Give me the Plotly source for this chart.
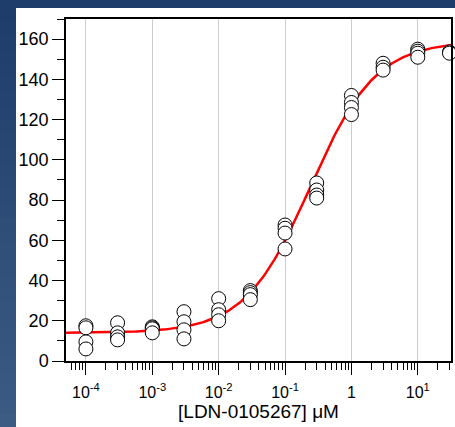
import numpy as np
import plotly.graph_objects as go

# ---- data ----
conc = [1e-4, 3e-4, 1e-3, 3e-3, 1e-2, 3e-2, 1e-1, 3e-1, 1.0, 3.0, 10.0, 30.0]
responses = [
    [17.5, 16.5, 9.5, 6.0],
    [19.0, 14.0, 12.0, 10.5],
    [17.0, 16.5, 16.0, 14.0],
    [24.5, 19.5, 15.5, 11.0],
    [31.0, 25.5, 23.0, 20.0],
    [35.0, 34.0, 33.0, 30.5],
    [67.6, 66.0, 63.6, 55.7],
    [88.5, 85.0, 82.5, 81.0],
    [132.0, 128.5, 126.0, 122.5],
    [148.0, 146.0, 144.6],
    [155.0, 154.0, 153.0, 151.0],
    [153.6, 153.0],
]
# fitted 4-parameter logistic curve
fit_bottom = 14.0
fit_top = 159.0
fit_ec50 = 0.24
fit_hill = 0.88

x_tickvals = [1e-4, 1e-3, 1e-2, 1e-1, 1, 10]
x_ticktext = ["10<sup>-4</sup>", "10<sup>-3</sup>", "10<sup>-2</sup>",
              "10<sup>-1</sup>", "1", "10<sup>1</sup>"]
y_tickvals = [0, 20, 40, 60, 80, 100, 120, 140, 160]
x_title = "[LDN-0105267] μM"

# ---- build ----
px_x, px_y = [], []
for c, vals in zip(conc, responses):
    for v in vals:
        px_x.append(c)
        px_y.append(v)

lx = np.linspace(-4.3, 1.5, 300)
cx = 10 ** lx
cy = fit_bottom + (fit_top - fit_bottom) / (1 + (fit_ec50 / cx) ** fit_hill)

minor_x = [k * 10.0 ** e for e in range(-5, 2) for k in range(2, 10)]
minor_x = [v for v in minor_x if 10 ** -4.3 <= v <= 10 ** 1.5]

W, H = 455, 427
ml, mr, mt, mb = 66, 4, 19, 66
pw, ph = W - ml - mr, H - mt - mb


def px2x(p):
    return (p - ml) / pw


def px2y(p):
    return 1 - (p - mt) / ph


shapes = []
# left gradient strip
n = 30
top_c = np.array([0x1f, 0x3d, 0x6b])
bot_c = np.array([0x3c, 0x5c, 0x84])
for i in range(n):
    t = i / (n - 1)
    col = (top_c * (1 - t) + bot_c * t).astype(int)
    y0p = 8 + (H - 8) * i / n
    y1p = 8 + (H - 8) * (i + 1) / n + 1
    shapes.append(dict(type="rect", xref="paper", yref="paper",
                       x0=px2x(0), x1=px2x(16.5), y0=px2y(y1p), y1=px2y(y0p),
                       fillcolor="rgb(%d,%d,%d)" % tuple(col), line_width=0,
                       layer="below"))
# white panel
shapes.append(dict(type="rect", xref="paper", yref="paper",
                   x0=px2x(16), x1=px2x(W + 2), y0=px2y(H + 2), y1=px2y(8),
                   fillcolor="white", line_width=0, layer="below"))

fig = go.Figure()
fig.add_trace(go.Scatter(x=cx, y=cy, mode="lines",
                         line=dict(color="#ff0000", width=2.5),
                         hoverinfo="skip", showlegend=False))
fig.add_trace(go.Scatter(x=px_x, y=px_y, mode="markers",
                         marker=dict(size=14, color="white",
                                     line=dict(color="black", width=1)),
                         cliponaxis=False, showlegend=False))

font = dict(family="Liberation Sans", size=16, color="black")

fig.update_layout(
    width=W, height=H,
    margin=dict(l=ml, r=mr, t=mt, b=mb, autoexpand=False),
    paper_bgcolor="#1f3d6b",
    plot_bgcolor="white",
    shapes=shapes,
    font=font,
    showlegend=False,
)
fig.update_xaxes(
    type="log", range=[-4.3, 1.5], automargin=False,
    tickmode="array", tickvals=x_tickvals, ticktext=x_ticktext,
    ticks="outside", ticklen=12, tickwidth=1, tickcolor="black",
    ticklabelstandoff=4,
    showline=True, linecolor="black", linewidth=1.5, mirror=True,
    showgrid=True, gridcolor="#cccccc", gridwidth=1,
    zeroline=False,
    minor=dict(tickmode="array", tickvals=minor_x, ticks="outside",
               ticklen=7, tickwidth=1, tickcolor="black", showgrid=False),
    title=dict(text=x_title, font=dict(size=19), standoff=5),
    tickfont=dict(size=16),
)
fig.update_yaxes(
    range=[0, 170], automargin=False,
    tickmode="array", tickvals=y_tickvals,
    ticks="outside", ticklen=12, tickwidth=1, tickcolor="black",
    showline=True, linecolor="black", linewidth=1.5, mirror=True,
    showgrid=False, zeroline=False,
    minor=dict(tickmode="array", tickvals=list(range(10, 171, 20)),
               ticks="outside", ticklen=7, tickwidth=1, tickcolor="black",
               showgrid=False),
    tickfont=dict(size=18),
)

fig.write_html(
    "out.html",
    config={"displayModeBar": False},
    post_script=("document.body.style.margin='0px';"
                 "document.body.style.overflow='hidden';"
                 "document.documentElement.style.overflow='hidden';"
                 "document.body.style.background='#1f3d6b';"),
)
